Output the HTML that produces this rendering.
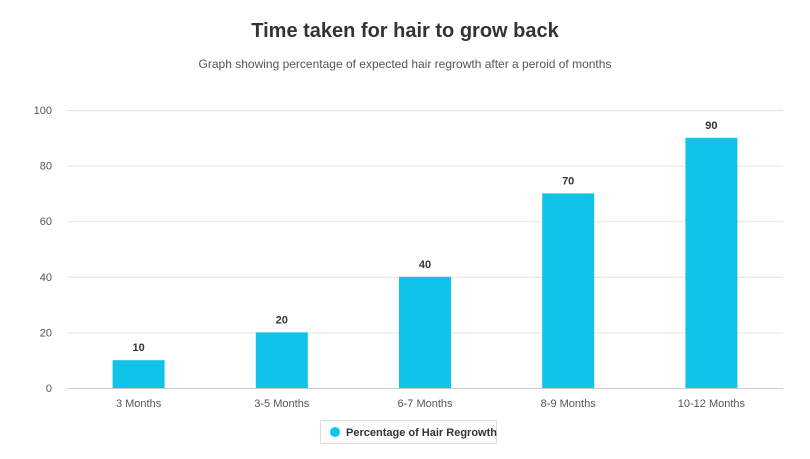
<!DOCTYPE html>
<html><head><meta charset="utf-8"><style>
body{margin:0;background:#fff;font-family:"Liberation Sans",sans-serif}
svg text{font-family:"Liberation Sans",sans-serif}
</style></head><body>
<svg id="c" width="810" height="454">
<text x="405" y="37" text-anchor="middle" font-size="20" font-weight="bold" fill="#333">Time taken for hair to grow back</text>
<text x="405" y="68" text-anchor="middle" font-size="12" fill="#555">Graph showing percentage of expected hair regrowth after a peroid of months</text>
<g id="grid"></g><g id="bars"></g><g id="xl"></g>
<g>
<rect x="320.5" y="420.5" width="176" height="23" fill="#fff" stroke="#ddd"/>
<circle cx="335" cy="432" r="5" fill="#10c3e8"/>
<text x="346" y="436" font-size="11" font-weight="bold" fill="#333">Percentage of Hair Regrowth</text>
</g>
</svg>
<script>
const categories=["3 Months","3-5 Months","6-7 Months","8-9 Months","10-12 Months"];
const values=[10,20,40,70,90];
const yTicks=[0,20,40,60,80,100];
const x0=67,x1=783,yB=388,yT=110,maxV=100;
const y=v=>yB-(v/maxV)*(yB-yT);
const bw=(x1-x0)/categories.length;
const xc=i=>x0+bw*(i+0.5);
const NS="http://www.w3.org/2000/svg";
function mk(t,a,p){const e=document.createElementNS(NS,t);for(const k in a)e.setAttribute(k,a[k]);document.getElementById(p).appendChild(e);return e;}
yTicks.forEach(t=>{
 const l=mk('line',{x1:x0,x2:x1,y1:y(t)+0.5,y2:y(t)+0.5,stroke:t===0?'#ccc':'#e3e3e3'},'grid');
 
 
 const tx=mk('text',{x:52,y:y(t)+4,'text-anchor':'end','font-size':11,fill:'#555'},'grid');
 tx.textContent=t;
 
 
});
categories.forEach((c,i)=>{
 const r=mk('rect',{x:xc(i)-26,y:y(values[i]),width:52,height:yB-y(values[i]),fill:'#10c3e8'},'bars');
 
 
 const v=mk('text',{x:xc(i),y:y(values[i])-9,'text-anchor':'middle','font-size':11,'font-weight':'bold',fill:'#333'},'bars');
 v.textContent=values[i];
 
 
 const t=mk('text',{x:xc(i),y:407,'text-anchor':'middle','font-size':11,fill:'#555'},'xl');
 t.textContent=c;
 
 
});
</script>
</body></html>
